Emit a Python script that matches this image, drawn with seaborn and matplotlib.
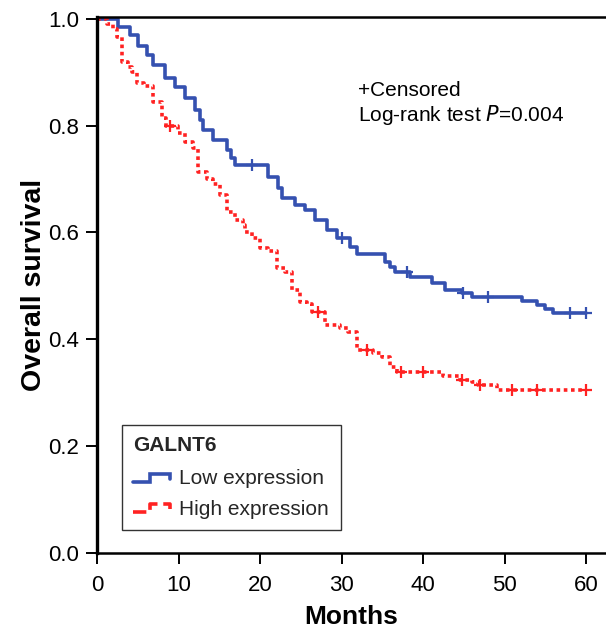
import numpy as np
import pandas as pd
import matplotlib
matplotlib.use("Agg")
import matplotlib.pyplot as plt
import seaborn as sns
from matplotlib.lines import Line2D
from matplotlib.legend_handler import HandlerBase

# ---- data ----
low_t = [0, 2.6, 4.0, 5.0, 6.1, 6.9, 8.3, 9.6, 10.8, 12.0, 12.6, 13.0, 14.2, 16.0, 16.4, 16.9,
         21.0, 22.2, 22.7, 24.3, 25.5, 26.7, 28.2, 29.4, 31.0, 31.9, 35.3, 36.0, 36.6, 38.4,
         41.1, 42.7, 44.8, 46.0, 52.1, 54.0, 55.0, 56.0, 60.0]
low_s = [1.0, 0.985, 0.97, 0.95, 0.933, 0.914, 0.89, 0.873, 0.852, 0.83, 0.81, 0.792, 0.773,
         0.755, 0.74, 0.727, 0.704, 0.683, 0.665, 0.652, 0.642, 0.624, 0.605, 0.59, 0.573, 0.56,
         0.545, 0.535, 0.526, 0.517, 0.506, 0.4925, 0.487, 0.48, 0.472, 0.464, 0.457, 0.449, 0.449]
high_t = [0, 1.2, 2.0, 2.45, 3.1, 3.8, 4.3, 4.9, 5.8, 6.9, 8.0, 8.5, 9.9, 10.8, 11.8, 12.4, 13.5,
          14.2, 15.1, 16.0, 16.9, 17.9, 18.2, 19.0, 20.0, 21.0, 22.1, 23.1, 23.9, 24.9, 25.8,
          26.4, 28.0, 29.8, 30.8, 31.9, 33.9, 35.0, 36.0, 36.8, 42.5, 44.5, 46.0, 46.7, 49.1, 60.0]
high_s = [1.0, 0.99, 0.98, 0.965, 0.92, 0.91, 0.9, 0.88, 0.875, 0.845, 0.815, 0.80, 0.787, 0.77,
          0.758, 0.713, 0.70, 0.69, 0.67, 0.638, 0.624, 0.614, 0.60, 0.59, 0.571, 0.565, 0.534,
          0.526, 0.4925, 0.47, 0.466, 0.451, 0.427, 0.421, 0.414, 0.38, 0.375, 0.367, 0.348,
          0.339, 0.331, 0.324, 0.32, 0.315, 0.305, 0.305]
low_cens = [19.0, 30.0, 38.0, 44.9, 48.0, 58.0, 60.0]
high_cens = [9.0, 27.1, 33.1, 37.3, 40.0, 44.8, 47.0, 50.9, 54.0, 60.0]

x_ticks = [0, 10, 20, 30, 40, 50, 60]
y_ticks = [0.0, 0.2, 0.4, 0.6, 0.8, 1.0]
groups = ["Low expression", "High expression"]

BLUE = "#3551b0"
RED = "#ff2222"

sns.set_theme(style="white")
plt.rcParams["font.family"] = ["Liberation Sans", "DejaVu Sans"]

fig = plt.figure(figsize=(6.06, 6.29), dpi=100)
ax = fig.add_axes([97 / 606, 1 - 553 / 629, 1 - 97 / 606, (553 - 16.5) / 629])

def step_value(ts, ss, t):
    i = np.searchsorted(ts, t, side="right") - 1
    return ss[max(i, 0)]

df_low = pd.DataFrame({"t": low_t, "s": low_s})
df_high = pd.DataFrame({"t": high_t, "s": high_s})

sns.lineplot(data=df_low, x="t", y="s", ax=ax, color=BLUE, lw=2.6,
             drawstyle="steps-post", estimator=None, sort=False)
sns.lineplot(data=df_high, x="t", y="s", ax=ax, color=RED, lw=2.6,
             drawstyle="steps-post", estimator=None, sort=False,
             linestyle=(0, (1.0, 1.0)))

cl = pd.DataFrame({"t": low_cens, "s": [step_value(low_t, low_s, t) for t in low_cens]})
ch = pd.DataFrame({"t": high_cens, "s": [step_value(high_t, high_s, t) for t in high_cens]})
sns.scatterplot(data=cl, x="t", y="s", ax=ax, marker="+", s=70, color=BLUE, linewidth=1.6)
sns.scatterplot(data=ch, x="t", y="s", ax=ax, marker="+", s=70, color=RED, linewidth=1.6)

ax.set_xlim(0, (606 - 97) / 8.15)
ax.set_ylim(0, 1 + (18.8 - 16.5) / 534)
ax.set_xticks(x_ticks)
ax.set_yticks(y_ticks)
ax.set_xticklabels([str(v) for v in x_ticks])
ax.set_yticklabels([f"{v:.1f}" for v in y_ticks])
ax.tick_params(axis="both", direction="out", length=8, width=1.4, color="black",
               labelsize=16, labelcolor="black", left=True, bottom=True, pad=5)
ax.tick_params(axis="x", pad=8)
for side in ["left", "bottom", "top"]:
    ax.spines[side].set_color("black")
ax.spines["left"].set_linewidth(2.4)
ax.spines["bottom"].set_linewidth(1.8)
ax.spines["top"].set_linewidth(1.8)
ax.spines["right"].set_visible(False)

ax.set_xlabel("Months", fontsize=19, fontweight="bold", color="black", labelpad=6)
ax.set_ylabel("Overall survival", fontsize=20.5, fontweight="bold", color="black", labelpad=1)

ax.text(32.0, 0.865, "+Censored", fontsize=15, va="center", ha="left", color="black")
ax.text(32.0, 0.819, "Log-rank test $\\it{P}$=0.004", fontsize=15, va="center",
        ha="left", color="black")

class StepHandler(HandlerBase):
    def create_artists(self, legend, orig_handle, xdescent, ydescent, width, height,
                       fontsize, trans):
        x0 = -xdescent
        lo = -ydescent + height * 0.15
        hi = -ydescent + height * 0.7
        xs = [x0, x0 + width * 0.45, x0 + width * 0.45, x0 + width, x0 + width]
        ys = [lo, lo, hi, hi, hi - height * 0.35]
        ln = Line2D(xs, ys, color=orig_handle.get_color(), lw=orig_handle.get_linewidth(),
                    linestyle=orig_handle.get_linestyle(), solid_joinstyle="miter")
        ln.set_transform(trans)
        return [ln]

h_low = Line2D([], [], color=BLUE, lw=2.6)
h_high = Line2D([], [], color=RED, lw=2.6, linestyle=(0, (1.0, 1.0)))
leg = ax.legend([h_low, h_high], groups, title="GALNT6",
                handler_map={Line2D: StepHandler()},
                loc="lower left", bbox_to_anchor=(25 / 509, 23 / 537), borderaxespad=0,
                frameon=True, fancybox=False, edgecolor="black", fontsize=15,
                title_fontproperties={"weight": "bold", "size": 15},
                alignment="left", handlelength=1.75, handletextpad=0.45,
                borderpad=0.55, labelspacing=0.55)
leg.get_frame().set_linewidth(1.0)
leg._legend_box.sep = 10

fig.savefig("out.png", dpi=100)
